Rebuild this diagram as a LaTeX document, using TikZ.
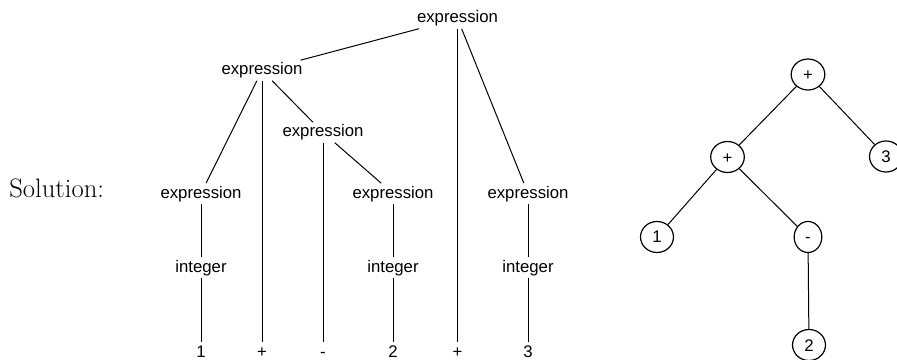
\documentclass[tikz,border=0pt]{standalone}
\usepackage{fontspec}
\newfontfamily\helv{Liberation Sans}
\usetikzlibrary{shapes.geometric}
\begin{document}
\begin{tikzpicture}[x=0.75pt,y=-0.75pt,
  lbl/.style={font=\helv\fontsize{12.56pt}{14pt}\selectfont, text height=9.4pt, text depth=2.6pt, inner xsep=1pt, inner ysep=1.5pt, anchor=base},
  opnode/.style={draw, line width=0.9pt, ellipse, font=\helv\fontsize{12.56pt}{14pt}\selectfont, text height=9pt, text depth=0pt, inner xsep=5.25pt, inner ysep=0pt, minimum height=23.25pt},
  edge/.style={line width=0.75pt}]
\useasboundingbox (0,0) rectangle (897,360);
% label
\node[anchor=base west, font=\fontsize{20pt}{23pt}\selectfont, inner sep=0pt] (sol) at (9,197) {Solution:};
% parse tree
\node[lbl] (e0) at (457.5,23) {expression};
\node[lbl] (e1) at (262,75) {expression};
\node[lbl] (e2) at (323,137) {expression};
\node[lbl] (e3) at (201,198) {expression};
\node[lbl] (e4) at (393,198) {expression};
\node[lbl] (e5) at (528,198) {expression};
\node[lbl] (i3) at (201,272) {integer};
\node[lbl] (i4) at (393,272) {integer};
\node[lbl] (i5) at (528,272) {integer};
\node[lbl] (l1) at (201,357) {1};
\node[lbl] (l2) at (262,357) {+};
\node[lbl] (l3) at (323,357) {-};
\node[lbl] (l4) at (393,357) {2};
\node[lbl] (l5) at (457.5,357) {+};
\node[lbl] (l6) at (528,357) {3};
\draw[edge] (e0) -- (e1);
\draw[edge] (e0) -- (l5);
\draw[edge] (e0) -- (e5);
\draw[edge] (e1) -- (e3);
\draw[edge] (e1) -- (l2);
\draw[edge] (e1) -- (e2);
\draw[edge] (e2) -- (l3);
\draw[edge] (e2) -- (e4);
\draw[edge] (e3) -- (i3);
\draw[edge] (i3) -- (l1);
\draw[edge] (e4) -- (i4);
\draw[edge] (i4) -- (l4);
\draw[edge] (e5) -- (i5);
\draw[edge] (i5) -- (l6);
% abstract syntax tree
\node[opnode] (r0) at (808,74.5) {+};
\node[opnode] (r1) at (727.5,157) {+};
\node[opnode] (r2) at (886,156.5) {3};
\node[opnode] (r3) at (657,237) {1};
\node[opnode] (r4) at (808,237) {-};
\node[opnode] (r5) at (809,345) {2};
\draw[edge] (r0) -- (r1);
\draw[edge] (r0) -- (r2);
\draw[edge] (r1) -- (r3);
\draw[edge] (r1) -- (r4);
\draw[edge] (r4) -- (r5);
\end{tikzpicture}
\end{document}
